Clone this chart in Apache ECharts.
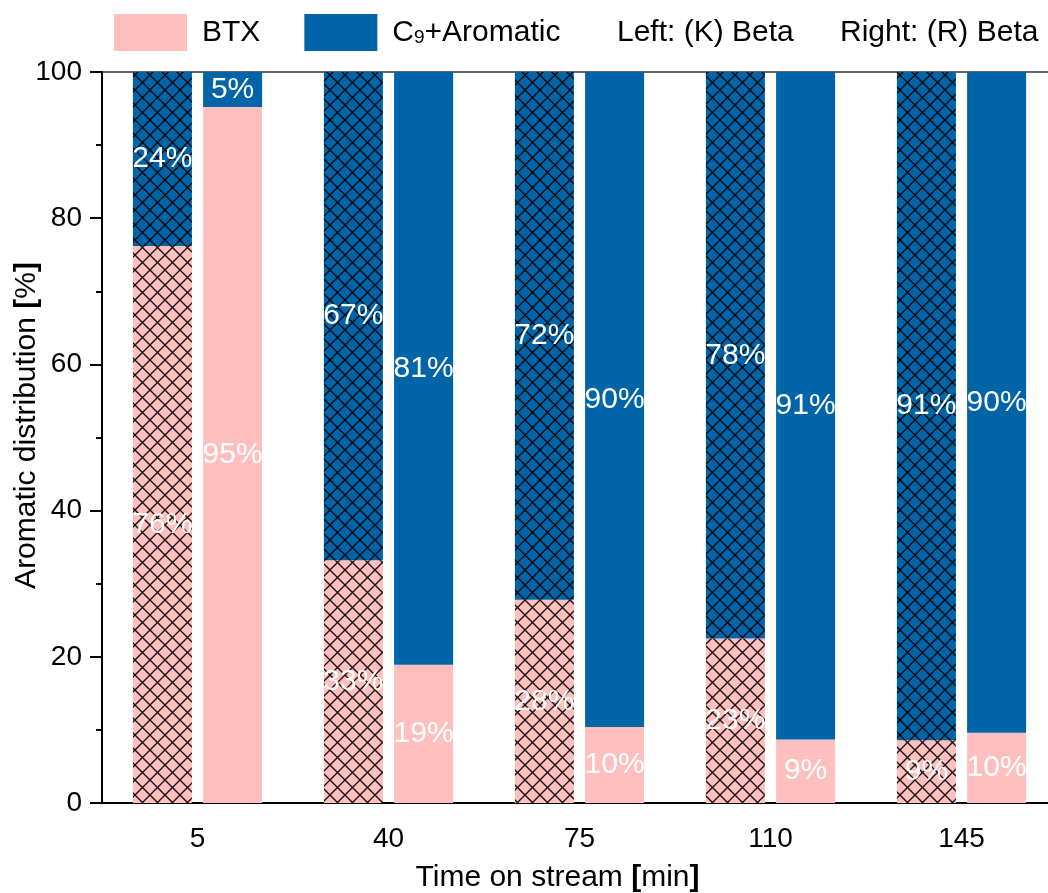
<!DOCTYPE html>
<html>
<head>
<meta charset="utf-8">
<title>Aromatic distribution</title>
<script src="https://cdn.jsdelivr.net/npm/echarts@6/dist/echarts.min.js"></script>
<style>
  html, body { margin: 0; padding: 0; background: #fff; }
  #chart { width: 1048px; height: 893px; }
</style>
</head>
<body>
<div id="chart"></div>
<script>
// Time on stream [min]
const times = ['5', '40', '75', '110', '145'];

// Left bars: (K) Beta
const kBTX = [76.2, 33.2, 27.8, 22.5, 8.6];
const kC9  = [23.8, 66.8, 72.2, 77.5, 91.4];

// Right bars: (R) Beta
const rBTX = [95.2, 18.9, 10.4, 8.7, 9.6];
const rC9  = [4.8, 81.1, 89.6, 91.3, 90.4];

const yTicks = { min: 0, max: 100, interval: 20 };

const PINK = '#FFBFBF';
const BLUE = '#0064A8';
const FONT = '"Liberation Sans", Arial, Helvetica, sans-serif';

// Cross-hatch fill used on the (K) Beta bars
function hatch(fill) {
  const s = 15;
  const c = document.createElement('canvas');
  c.width = s; c.height = s;
  const g = c.getContext('2d');
  g.fillStyle = fill;
  g.fillRect(0, 0, s, s);
  g.strokeStyle = 'rgba(0,0,0,0.9)';
  g.lineWidth = 1.4;
  g.beginPath();
  for (const d of [-s, 0, s]) {
    g.moveTo(d, 0); g.lineTo(d + s, s);
    g.moveTo(d + s, 0); g.lineTo(d, s);
  }
  g.stroke();
  return { image: c, repeat: 'repeat' };
}

const label = {
  show: true,
  position: 'inside',
  color: '#fff',
  fontSize: 30,
  fontFamily: FONT,
  formatter: p => Math.round(p.value) + '%'
};

const barCommon = {
  type: 'bar',
  barWidth: 59,
  barGap: '19%',
  label: label,
  emphasis: { disabled: true }
};

const chart = echarts.init(document.getElementById('chart'), null, { renderer: 'canvas' });

chart.setOption({
  animation: false,
  backgroundColor: '#fff',
  grid: {
    left: 102, right: -9, top: 72, bottom: 90,
    outerBoundsMode: 'none',
    containLabel: false,
    show: true, borderColor: '#333', borderWidth: 1.5, backgroundColor: 'transparent'
  },
  legend: {
    left: 109, top: 9,
    itemWidth: 73, itemHeight: 37, itemGap: 44,
    icon: 'rect',
    selectedMode: false,
    data: ['BTX', 'C9+Aromatic'],
    formatter: name => name === 'C9+Aromatic'
      ? '{n|C}{s|9}{n|+Aromatic}'
      : '{n|' + name + '}',
    textStyle: {
      color: '#000', fontSize: 30, fontFamily: FONT, padding: [0, 0, 0, 10],
      rich: {
        n: { fontSize: 30, fontFamily: FONT, color: '#000' },
        s: { fontSize: 19, fontFamily: FONT, color: '#000', padding: [11, 0, 0, 0] }
      }
    }
  },
  graphic: [
    { type: 'text', left: 617, top: 18, style: { text: 'Left: (K) Beta', fontSize: 30, fontFamily: FONT, fill: '#000' } },
    { type: 'text', left: 840, top: 18, style: { text: 'Right: (R) Beta', fontSize: 30, fontFamily: FONT, fill: '#000' } }
  ],
  xAxis: {
    type: 'category',
    data: times,
    name: '{n|Time on stream }{b|[}{n|min}{b|]}',
    nameLocation: 'middle',
    nameGap: 60,
    nameMoveOverlap: false,
    nameTextStyle: {
      padding: [0, 44, 0, 0],
      rich: {
        n: { fontSize: 30, fontFamily: FONT, color: '#000' },
        b: { fontSize: 30, fontFamily: FONT, color: '#000', fontWeight: 'bold' }
      }
    },
    axisLine: { lineStyle: { color: '#000', width: 2 } },
    axisTick: { alignWithLabel: true, length: 12, lineStyle: { color: '#000', width: 2 } },
    axisLabel: { color: '#000', fontSize: 28, fontFamily: FONT, margin: 22 },
    splitLine: { show: false }
  },
  yAxis: {
    type: 'value',
    min: yTicks.min, max: yTicks.max, interval: yTicks.interval,
    name: '{n|Aromatic distribution }{b|[}{n|%}{b|]}',
    nameLocation: 'middle',
    nameGap: 60,
    nameRotate: 90,
    nameMoveOverlap: false,
    nameTextStyle: {
      padding: [0, 0, 0, 24],
      rich: {
        n: { fontSize: 30, fontFamily: FONT, color: '#000' },
        b: { fontSize: 30, fontFamily: FONT, color: '#000', fontWeight: 'bold' }
      }
    },
    axisLine: { show: true, lineStyle: { color: '#000', width: 2 } },
    axisTick: { show: true, length: 12, lineStyle: { color: '#000', width: 2 } },
    minorTick: { show: true, splitNumber: 2, length: 6, lineStyle: { color: '#000', width: 2 } },
    axisLabel: { color: '#000', fontSize: 28, fontFamily: FONT, margin: 20 },
    splitLine: { show: false }
  },
  series: [
    Object.assign({}, barCommon, { name: 'K BTX', stack: 'K', data: kBTX, itemStyle: { color: hatch(PINK) } }),
    Object.assign({}, barCommon, { name: 'K C9', stack: 'K', data: kC9, itemStyle: { color: hatch(BLUE) } }),
    Object.assign({}, barCommon, { name: 'BTX', stack: 'R', data: rBTX, itemStyle: { color: PINK } }),
    Object.assign({}, barCommon, { name: 'C9+Aromatic', stack: 'R', data: rC9, itemStyle: { color: BLUE } })
  ]
});
</script>
</body>
</html>
